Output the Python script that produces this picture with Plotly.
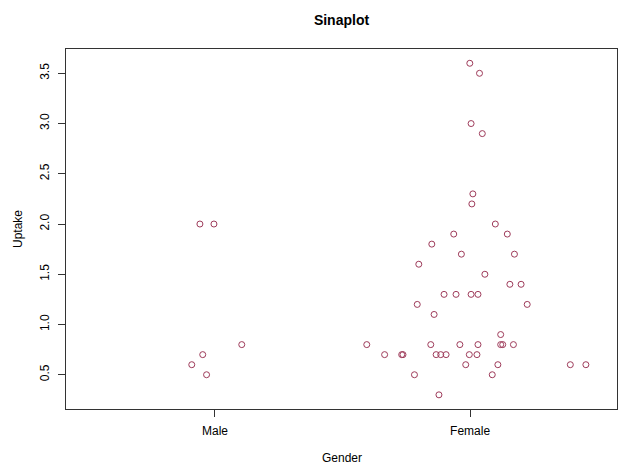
import plotly.graph_objects as go

# Categories and their axis positions
categories = ["Male", "Female"]
cat_pos = [1, 2]

# Uptake values per group
male_uptake = [2.0, 2.0, 0.8, 0.7, 0.6, 0.5]
male_offset = [-0.059, -0.004, 0.105, -0.048, -0.091, -0.033]

female_uptake = [3.6, 3.5, 3.0, 2.9, 2.3, 2.2, 2.0,
                 1.9, 1.9, 1.8, 1.7, 1.7, 1.6, 1.5, 1.4, 1.4,
                 1.3, 1.3, 1.3, 1.3, 1.2, 1.2, 1.1, 0.9,
                 0.8, 0.8, 0.8, 0.8, 0.8, 0.8, 0.8,
                 0.7, 0.7, 0.7, 0.7, 0.7, 0.7, 0.7, 0.7,
                 0.6, 0.6, 0.6, 0.6, 0.5, 0.5, 0.3]
female_offset = [-0.001, 0.037, 0.004, 0.048, 0.011, 0.007, 0.099,
                 -0.064, 0.146, -0.150, -0.034, 0.174, -0.201, 0.058, 0.156, 0.200,
                 -0.102, -0.055, 0.004, 0.031, -0.207, 0.224, -0.141, 0.120,
                 -0.405, -0.154, -0.040, 0.031, 0.120, 0.128, 0.170,
                 -0.335, -0.268, -0.263, -0.133, -0.115, -0.094, -0.003, 0.027,
                 -0.017, 0.109, 0.393, 0.454, -0.218, 0.087, -0.122]

y_ticks = [0.5, 1.0, 1.5, 2.0, 2.5, 3.0, 3.5]
y_ticktext = ["0.5", "1.0", "1.5", "2.0", "2.5", "3.0", "3.5"]

point_color = "#9E3B5A"
font_family = "Liberation Sans, Arial, sans-serif"

fig = go.Figure()
for pos, offs, vals in [(cat_pos[0], male_offset, male_uptake),
                        (cat_pos[1], female_offset, female_uptake)]:
    fig.add_trace(go.Scatter(
        x=[pos + o for o in offs], y=vals, mode="markers",
        marker=dict(symbol="circle-open", size=6, color=point_color,
                    line=dict(width=1, color=point_color)),
        showlegend=False, hoverinfo="y"))

fig.update_layout(
    width=619, height=465,
    margin=dict(l=66, r=2, t=49, b=56),
    paper_bgcolor="white", plot_bgcolor="white",
    font=dict(family=font_family, size=12, color="black"),
    title=dict(text="<b>Sinaplot</b>", x=(66 + 617) / 2 / 619, xanchor="center",
               y=1 - 20 / 465, yanchor="middle", font=dict(size=14)),
    xaxis=dict(range=[0.416, 2.576], tickvals=cat_pos, ticktext=categories,
               showgrid=False, zeroline=False, showline=True, mirror=True,
               linecolor="#333", linewidth=1, ticks="outside", ticklen=7,
               tickcolor="#333", tickfont=dict(size=12), ticklabelstandoff=4),
    yaxis=dict(range=[0.159, 3.742], tickvals=y_ticks, ticktext=y_ticktext,
               tickangle=-90, showgrid=False, zeroline=False, showline=True,
               mirror=True, linecolor="#333", linewidth=1, ticks="outside",
               ticklen=7, tickcolor="#333", tickfont=dict(size=12),
               ticklabelstandoff=4),
    annotations=[
        dict(text="Gender", xref="paper", yref="paper", x=0.5, y=0,
             yshift=-49, xanchor="center", yanchor="middle",
             showarrow=False, font=dict(size=12)),
        dict(text="Uptake", xref="paper", yref="paper", x=0, y=0.5,
             xshift=-48, xanchor="center", yanchor="middle", textangle=-90,
             showarrow=False, font=dict(size=12)),
    ],
)

fig.write_html("out.html")
